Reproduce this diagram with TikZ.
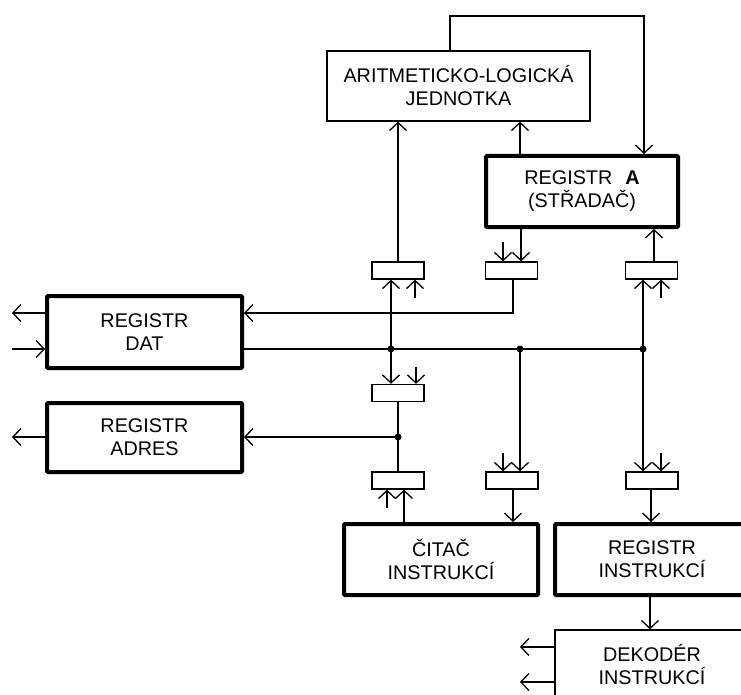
\documentclass[tikz,border=0pt]{standalone}
\usepackage{fontspec}
\setmainfont{Liberation Sans}
\usetikzlibrary{arrows.meta, positioning, calc}

\begin{document}
\begin{tikzpicture}[x=1pt, y=-1pt, font=\fontsize{19.8}{23}\selectfont,
  reg/.style={draw, line width=4pt, rounded corners=1pt, align=center, inner sep=0pt},
  unit/.style={draw, line width=1.3pt, align=center, inner sep=0pt},
  gate/.style={draw, line width=1.3pt, minimum width=52pt, minimum height=17pt, inner sep=0pt},
  wire/.style={line width=1.3pt},
  arr/.style={wire, -{Straight Barb[length=8pt, width=17pt]}},
  dot/.style={circle, fill, inner sep=0pt, minimum size=7pt}]

  \useasboundingbox (0,0) rectangle (741,695);

  % ── Units and registers ──
  \node[unit, minimum width=263pt, minimum height=70pt] (alu) at (458.5,86)
    {ARITMETICKO-LOGICKÁ\\JEDNOTKA};
  \node[reg, minimum width=192pt, minimum height=71pt] (rega) at (582,191.5)
    {REGISTR\hspace{13pt}\textbf{A}\\(STŘADAČ)};
  \node[reg, minimum width=195pt, minimum height=72pt] (rdat) at (144.5,332) {REGISTR\\DAT};
  \node[reg, minimum width=195pt, minimum height=69pt] (radr) at (144.5,437.5) {REGISTR\\ADRES};
  \node[reg, minimum width=194pt, minimum height=71pt] (cit) at (441,559.5) {ČITAČ\\INSTRUKCÍ};
  \node[reg, minimum width=194pt, minimum height=71pt] (rins) at (652,559.5) {REGISTR\\INSTRUKCÍ};
  \node[unit, minimum width=194pt, minimum height=70pt] (dek) at (652,665) {DEKODÉR\\INSTRUKCÍ};

  % ── Transfer gates ──
  \node[gate] (g1) at (398,270.5) {};
  \node[gate] (g2) at (511.5,270.5) {};
  \node[gate] (g3) at (651.5,270.5) {};
  \node[gate] (g4) at (398,393) {};
  \node[gate] (g5) at (398,480.5) {};
  \node[gate] (g6) at (512,480.5) {};
  \node[gate] (g7) at (652,480.5) {};

  % ── Data bus and junctions ──
  \node[dot] (dA) at (391,349) {};
  \node[dot] (dB) at (520,349) {};
  \node[dot] (dC) at (643,349) {};
  \node[dot] (dD) at (398,437) {};
  \coordinate (loop) at (644,16);
  \coordinate (outD) at (12,313);
  \coordinate (inD) at (12,349);
  \coordinate (outA) at (12,437);
  \coordinate (dk1) at (520,647);
  \coordinate (dk2) at (520,682);

  \draw[wire] (rdat.east |- dA) -- (dC.center);

  % ALU <-> accumulator
  \draw[arr] ([xshift=-8.5pt]alu.north) |- (loop) -- (loop |- rega.north);
  \draw[arr] (g1.north) -- (g1.north |- alu.south);
  \draw[arr] ([xshift=-62pt]rega.north) -- ([xshift=-62pt]rega.north |- alu.south);

  % upper gates
  \draw[arr] (dA.center) -- (g1.south -| dA);
  \draw[arr] ([xshift=17pt]g1.south) ++(0,18) -- ++(0,-18);
  \draw[arr] ([xshift=-61pt]rega.south) -- ([xshift=-61pt]rega.south |- g2.north);
  \draw[arr] ([xshift=-8.5pt]g2.north) ++(0,-19) -- ++(0,19);
  \draw[arr] ([xshift=1.5pt]g2.south) |- (rdat.east |- outD);
  \draw[arr] (dC.center) -- (g3.south -| dC);
  \draw[arr] ([xshift=9.5pt]g3.south) ++(0,18) -- ++(0,-18);
  \draw[arr] ([xshift=2.5pt]g3.north) -- ([xshift=2.5pt]g3.north |- rega.south);

  % address path
  \draw[arr] (dA.center) -- (g4.north -| dA);
  \draw[arr] ([xshift=18pt]g4.north) ++(0,-17) -- ++(0,17);
  \draw[wire] (g4.south) -- (g5.north);
  \draw[arr] (dD.center) -- (radr.east |- dD);
  \draw[arr] ([xshift=-11pt]g5.south) ++(0,18) -- ++(0,-18);
  \draw[arr] ([xshift=6pt]g5.south |- cit.north) -- ([xshift=6pt]g5.south);

  % lower gates
  \draw[arr] (dB.center) -- (g6.north -| dB);
  \draw[arr] ([xshift=-9pt]g6.north) ++(0,-18) -- ++(0,18);
  \draw[arr] ([xshift=1pt]g6.south) -- ([xshift=1pt]g6.south |- cit.north);
  \draw[arr] (dC.center) -- (g7.north -| dC);
  \draw[arr] ([xshift=9pt]g7.north) ++(0,-18) -- ++(0,18);
  \draw[arr] ([xshift=-1pt]g7.south) -- ([xshift=-1pt]g7.south |- rins.north);
  \draw[arr] ([xshift=-2pt]rins.south) -- ([xshift=-2pt]dek.north);

  % outside connections
  \draw[arr] (rdat.west |- outD) -- (outD);
  \draw[arr] (inD) -- (rdat.west |- inD);
  \draw[arr] (radr.west |- outA) -- (outA);
  \draw[arr] (dek.west |- dk1) -- (dk1);
  \draw[arr] (dek.west |- dk2) -- (dk2);

\end{tikzpicture}
\end{document}
